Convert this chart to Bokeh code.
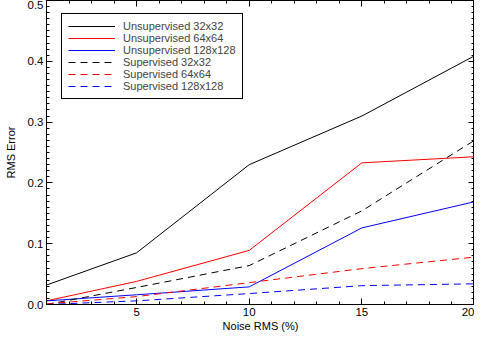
from bokeh.plotting import figure
from bokeh.models import (LinearAxis, FixedTicker, PrintfTickFormatter, Range1d,
                          CustomJSTickFormatter)
from bokeh.embed import file_html
from bokeh.resources import INLINE

noise = [1, 5, 10, 15, 20]
unsup_32 = [0.032, 0.085, 0.230, 0.310, 0.409]
unsup_64 = [0.006, 0.038, 0.089, 0.233, 0.243]
unsup_128 = [0.006, 0.016, 0.029, 0.126, 0.169]
sup_32 = [0.000, 0.028, 0.064, 0.154, 0.270]
sup_64 = [0.001, 0.013, 0.036, 0.059, 0.078]
sup_128 = [0.000, 0.006, 0.018, 0.031, 0.034]
labels = ["Unsupervised 32x32", "Unsupervised 64x64", "Unsupervised 128x128",
          "Supervised 32x32", "Supervised 64x64", "Supervised 128x128"]
x_major = [5, 10, 15, 20]
x_minor = list(range(1, 21))
y_major = [0.0, 0.1, 0.2, 0.3, 0.4, 0.5]
y_minor = [i / 100 for i in range(0, 51)]

FONT = "Liberation Sans"

p = figure(width=474, height=334, output_backend="svg",
           toolbar_location=None, x_range=Range1d(1, 20), y_range=Range1d(0, 0.5),
           min_border_left=46, min_border_right=0, min_border_top=0,
           min_border_bottom=28)
p.xgrid.visible = False
p.ygrid.visible = False
p.outline_line_color = "black"
p.outline_line_width = 1

xt = FixedTicker(ticks=x_major, minor_ticks=x_minor)
yt = FixedTicker(ticks=y_major, minor_ticks=y_minor)

p.xaxis.ticker = xt
p.yaxis.ticker = yt
p.yaxis.formatter = PrintfTickFormatter(format="%.1f")

def style(ax):
    ax.axis_line_color = "black"
    ax.major_tick_line_color = "black"
    ax.minor_tick_line_color = "black"
    ax.major_tick_in = 6
    ax.major_tick_out = 0
    ax.minor_tick_in = 3
    ax.minor_tick_out = 0
    ax.major_label_text_font = FONT
    ax.major_label_text_color = "black"
    ax.major_label_text_font_size = "11.5px"
    ax.axis_label_text_font = FONT
    ax.axis_label_text_font_style = "normal"
    ax.axis_label_text_color = "black"
    ax.axis_label_text_font_size = "11px"

style(p.xaxis[0])
style(p.yaxis[0])
p.xaxis.axis_label = "Noise RMS (%)"
p.yaxis.axis_label = "RMS Error"
p.xaxis.major_label_standoff = 3
p.xaxis.axis_label_standoff = 1
p.yaxis.major_label_standoff = 3
p.yaxis.axis_label_standoff = 8

blank = CustomJSTickFormatter(code="return ''")
top = LinearAxis(ticker=xt, formatter=blank, major_label_standoff=0)
style(top)
p.add_layout(top, "above")
right = LinearAxis(ticker=yt, formatter=blank, major_label_standoff=0)
style(right)
p.add_layout(right, "right")

series = [unsup_32, unsup_64, unsup_128, sup_32, sup_64, sup_128]
colors = ["black", "red", "blue", "black", "red", "blue"]
dashes = ["solid", "solid", "solid", "7 5", "7 5", "7 5"]
for ys, c, d, lab in zip(series, colors, dashes, labels):
    p.line(noise, ys, line_color=c, line_width=1, line_dash=d, legend_label=lab)

lg = p.legend[0]
lg.location = (15, 205)
lg.padding = 6
lg.spacing = 0
lg.margin = 0
lg.label_height = 12
lg.glyph_height = 12
lg.glyph_width = 47
lg.label_standoff = 8
lg.label_text_font = FONT
lg.label_text_font_size = "11px"
lg.border_line_color = "black"
lg.border_line_width = 1
lg.border_line_alpha = 1.0
lg.background_fill_alpha = 1.0

open("out.html", "w").write(file_html(p, INLINE))
